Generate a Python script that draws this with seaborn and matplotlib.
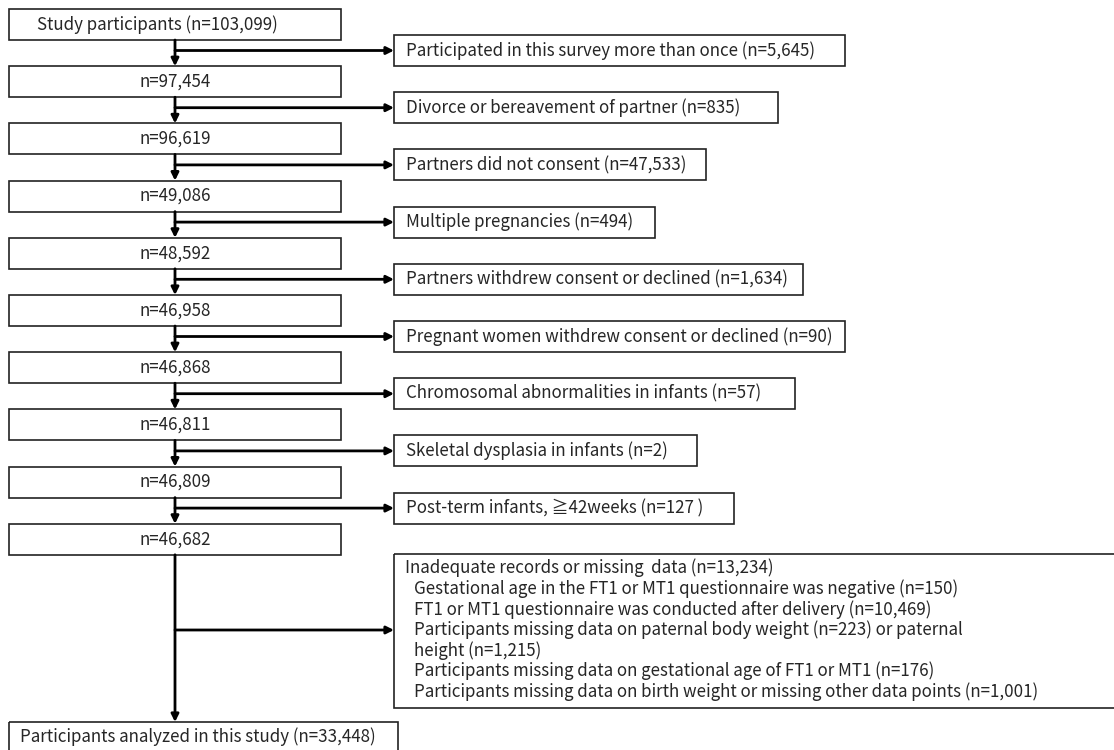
import matplotlib
matplotlib.use("Agg")
import matplotlib.pyplot as plt
import seaborn as sns
from matplotlib.patches import Rectangle

# flow counts
remaining = [103099, 97454, 96619, 49086, 48592, 46958, 46868, 46811, 46809, 46682]
final_n = 33448

excl_labels = [
    "Participated in this survey more than once",
    "Divorce or bereavement of partner",
    "Partners did not consent",
    "Multiple pregnancies",
    "Partners withdrew consent or declined",
    "Pregnant women withdrew consent or declined",
    "Chromosomal abnormalities in infants",
    "Skeletal dysplasia in infants",
    "Post-term infants, \u226742weeks",
]
excl_n = [5645, 835, 47533, 494, 1634, 90, 57, 2, 127]

missing_total = 13234
missing_lines = [
    "Gestational age in the FT1 or MT1 questionnaire was negative (n=150)",
    "FT1 or MT1 questionnaire was conducted after delivery (n=10,469)",
    "Participants missing data on paternal body weight (n=223) or paternal",
    "height (n=1,215)",
    "Participants missing data on gestational age of FT1 or MT1 (n=176)",
    "Participants missing data on birth weight or missing other data points (n=1,001)",
]

sns.set_theme(style="white")
plt.rcParams['font.family'] = ['Noto Sans CJK JP', 'DejaVu Sans']

fig = plt.figure(figsize=(11.14, 7.5), dpi=100)
ax = fig.add_axes([0, 0, 1, 1])
ax.set_xlim(0, 1114)
ax.set_ylim(750, 0)
ax.axis("off")

FS = 12.2
edge = "#222222"
x_main = 175
left_x0, left_w, box_h = 9, 332, 31
right_x0 = 394
right_w = [451, 384, 312, 261, 409, 451, 401, 303, 340]
step = 57.2


def box(x, y, w, h):
    ax.add_patch(Rectangle((x, y), w, h, fill=False, edgecolor=edge, lw=1.2))


def arrow(x0, y0, x1, y1):
    ax.annotate("", xy=(x1, y1), xytext=(x0, y0),
                arrowprops=dict(arrowstyle="-|>", color="black", lw=2,
                                mutation_scale=11, shrinkA=0, shrinkB=0))


for i, n in enumerate(remaining):
    top = 9 + i * step
    box(left_x0, top, left_w, box_h)
    if i == 0:
        ax.text(37, top + box_h / 2, f"Study participants (n={n:,})",
                fontsize=FS, va="center", ha="left")
    else:
        ax.text(x_main, top + box_h / 2, f"n={n:,}", fontsize=FS,
                va="center", ha="center")
    if i < len(excl_n):
        next_top = 9 + (i + 1) * step
        arrow(x_main, top + box_h, x_main, next_top)
        ry = top + 26
        box(right_x0, ry, right_w[i], box_h)
        ay = ry + box_h / 2
        arrow(x_main, ay, right_x0, ay)
        label = f"{excl_labels[i]} (n={excl_n[i]:,})"
        if i == 8:
            label = f"{excl_labels[i]} (n={excl_n[i]:,} )"
        ax.text(right_x0 + 12, ay, label, fontsize=FS, va="center", ha="left")

# last exclusion box with details
last_top = 9 + 9 * step
big_top, big_bot = 554, 708
box(right_x0, big_top, 730, big_bot - big_top)
arrow(x_main, last_top + box_h, x_main, 722)
arrow(x_main, 630, right_x0, 630)
ax.text(405, 568, f"Inadequate records or missing  data (n={missing_total:,})",
        fontsize=FS, va="center", ha="left")
for j, line in enumerate(missing_lines):
    ax.text(414, 589 + j * 20.5, line, fontsize=FS, va="center", ha="left")

# analysed box
box(left_x0, 722, 389, 40)
ax.text(20, 737, f"Participants analyzed in this study (n={final_n:,})",
        fontsize=FS, va="center", ha="left")

fig.savefig("out.png", dpi=100, facecolor="white")
